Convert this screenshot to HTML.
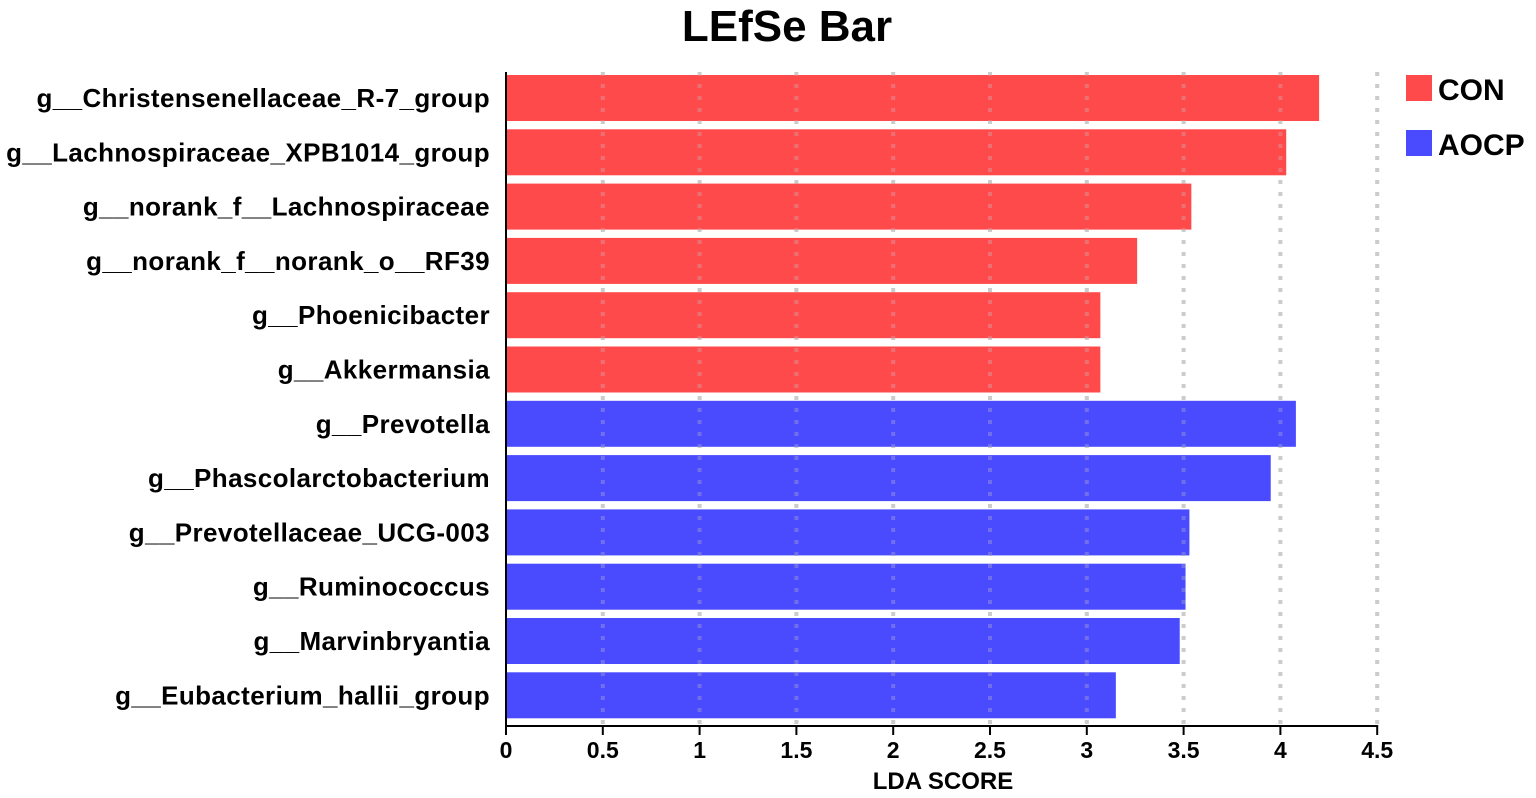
<!DOCTYPE html>
<html><head><meta charset="utf-8"><style>
html,body{margin:0;padding:0;background:#fff;}
svg{display:block;font-family:"Liberation Sans",Arial,sans-serif;font-weight:bold;}
</style></head><body>
<svg id="chart" width="1536" height="798" viewBox="0 0 1536 798">
<text x="787" y="41" text-anchor="middle" font-size="44">LEfSe Bar</text>
<g id="gridback"></g><g id="bars"></g><g id="grid"></g><g id="axis"></g>
<g>
<rect x="1406" y="75" width="26" height="26" fill="#ff4a4c"/>
<text x="1438" y="100" font-size="30">CON</text>
<rect x="1406" y="130" width="26" height="26" fill="#4a4aff"/>
<text x="1438" y="155" font-size="30">AOCP</text>
</g>
<text x="943" y="789" text-anchor="middle" font-size="24">LDA SCORE</text>
</svg>
<script>
const categories=["g__Christensenellaceae_R-7_group","g__Lachnospiraceae_XPB1014_group","g__norank_f__Lachnospiraceae","g__norank_f__norank_o__RF39","g__Phoenicibacter","g__Akkermansia","g__Prevotella","g__Phascolarctobacterium","g__Prevotellaceae_UCG-003","g__Ruminococcus","g__Marvinbryantia","g__Eubacterium_hallii_group"];
const values=[4.2,4.03,3.54,3.26,3.07,3.07,4.08,3.95,3.53,3.51,3.48,3.15];
const groups=["CON","CON","CON","CON","CON","CON","AOCP","AOCP","AOCP","AOCP","AOCP","AOCP"];
const ticks=[0,0.5,1,1.5,2,2.5,3,3.5,4,4.5];
const NS="http://www.w3.org/2000/svg";
const x0=506,unit=193.6,top0=75,pitch=54.3,bh=46,axisY=726;
const xs=v=>x0+v*unit;
const ys=i=>top0+i*pitch;
const colors={CON:"#ff4a4c",AOCP:"#4a4aff"};
function mk(tag,attrs,parent){const e=document.createElementNS(NS,tag);for(const k in attrs)e.setAttribute(k,attrs[k]);parent.appendChild(e);return e;}
const gb=document.getElementById('bars'),gg=document.getElementById('grid'),ga=document.getElementById('axis'),gbk=document.getElementById('gridback');
categories.forEach((c,i)=>{
 const r=mk('rect',{x:x0,y:ys(i),width:xs(values[i])-x0,height:bh,fill:colors[groups[i]]},gb);
 
 
 const t=mk('text',{x:490,y:ys(i)+bh/2+9,'text-anchor':'end','font-size':26,'letter-spacing':0.4},gb);
 t.textContent=c;
 
 
});
ticks.forEach(v=>{
 if(v>0){
 const b=mk('line',{x1:xs(v),x2:xs(v),y1:72,y2:axisY,stroke:"#cfcfcf","stroke-width":4,"stroke-dasharray":"4 8"},gbk);
 
 
 const l=mk('line',{x1:xs(v),x2:xs(v),y1:72,y2:axisY,stroke:"#c8c8c8","stroke-opacity":0.3,"stroke-width":4,"stroke-dasharray":"4 8"},gg);
 
 }
 const tk=mk('line',{x1:xs(v),x2:xs(v),y1:axisY,y2:axisY+9,stroke:"#000","stroke-width":2},ga);
 
 
 const tl=mk('text',{x:xs(v),y:axisY+32,'text-anchor':'middle','font-size':23},ga);
 tl.textContent=String(v);
 
 
});
const xa=mk('line',{x1:x0,x2:xs(4.5)+1,y1:axisY,y2:axisY,stroke:"#000","stroke-width":2},ga);


const ya=mk('line',{x1:x0,x2:x0,y1:72,y2:axisY,stroke:"#000","stroke-width":2},ga);


</script>
</body></html>
